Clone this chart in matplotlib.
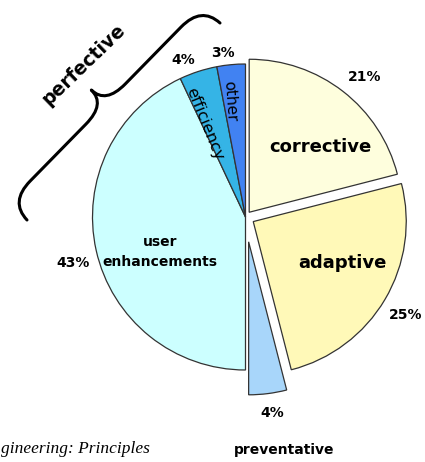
import numpy as np
import matplotlib
matplotlib.use("Agg")
import matplotlib.pyplot as plt
from matplotlib.path import Path
from matplotlib.patches import PathPatch

# ---- data ----
categories = ["corrective", "adaptive", "preventative", "user\nenhancements", "efficiency", "other"]
values = [21, 25, 4, 43, 4, 3]
pct_labels = ["21%", "25%", "4%", "43%", "4%", "3%"]
colors = ["#FEFEDD", "#FFF9B8", "#A8D6FA", "#CCFFFF", "#35B4E6", "#4182F2"]
explode = [6, 9, 25, 0, 0, 0]
group_label = "perfective"
source_text = "gineering: Principles"

W, H = 425, 462
fig = plt.figure(figsize=(W / 100, H / 100), dpi=100)
ax = fig.add_axes([0, 0, 1, 1])

cx, cy, R = 245.5, H - 217, 153

ax.pie(values, colors=colors, explode=explode, startangle=90, counterclock=False,
       center=(cx, cy), radius=R, frame=True,
       wedgeprops=dict(edgecolor="#333333", linewidth=0.9))
ax.set_xlim(0, W)
ax.set_ylim(0, H)
ax.axis("off")


def Y(y):
    return H - y


bold = dict(fontweight="bold", color="black", ha="center", va="center", family="DejaVu Sans")
norm = dict(fontweight="normal", color="black", ha="center", va="center", family="DejaVu Sans")

# category labels
ax.text(320, Y(147), categories[0], fontsize=13, **bold)
ax.text(342, Y(263), categories[1], fontsize=13, **bold)
ax.text(284, Y(450), categories[2], fontsize=10, **bold)
ax.text(160, Y(252), categories[3], fontsize=10, linespacing=1.5, **bold)
ax.text(205, Y(124), categories[4], fontsize=11.5, rotation=-68, **norm)
ax.text(230, Y(101), categories[5], fontsize=11, rotation=-86, **norm)

# percentage labels
ax.text(365, Y(77), pct_labels[0], fontsize=10, **bold)
ax.text(406, Y(315), pct_labels[1], fontsize=10, **bold)
ax.text(272, Y(413), pct_labels[2], fontsize=10, **bold)
ax.text(73, Y(263), pct_labels[3], fontsize=10, **bold)
ax.text(183, Y(60), pct_labels[4], fontsize=10, **bold)
ax.text(223, Y(53), pct_labels[5], fontsize=10, **bold)

# brace
E0 = np.array([27.0, 220.0])
E1 = np.array([220.0, 23.0])
L = np.linalg.norm(E1 - E0)
d = (E1 - E0) / L
p = np.array([d[1], -d[0]])  # perpendicular toward upper-left (pixel coords, y down)
if p[0] > 0:
    p = -p
arm, tip = 25.0, 45.0
m = L / 2
local = [
    (Path.MOVETO, (0, 0)),
    (Path.CURVE3, (1, arm)), (Path.CURVE3, (30, arm)),
    (Path.LINETO, (m - 28, arm)),
    (Path.CURVE3, (m, arm)), (Path.CURVE3, (m, tip)),
    (Path.CURVE3, (m, arm)), (Path.CURVE3, (m + 28, arm)),
    (Path.LINETO, (L - 30, arm)),
    (Path.CURVE3, (L - 1, arm)), (Path.CURVE3, (L, 0)),
]
codes, verts = [], []
for c, (u, v) in local:
    pt = E0 + u * d + v * p
    codes.append(c)
    verts.append((pt[0], Y(pt[1])))
ax.add_patch(PathPatch(Path(verts, codes), facecolor="none", edgecolor="black", lw=2.2,
                       capstyle="round", joinstyle="round"))

ax.text(84, Y(65), group_label, fontsize=13.5, rotation=44, **bold)

ax.text(1, Y(449), source_text, fontsize=12.5, ha="left", va="center",
        family="Liberation Serif", style="italic", color="black")

fig.savefig("out.png", dpi=100)
